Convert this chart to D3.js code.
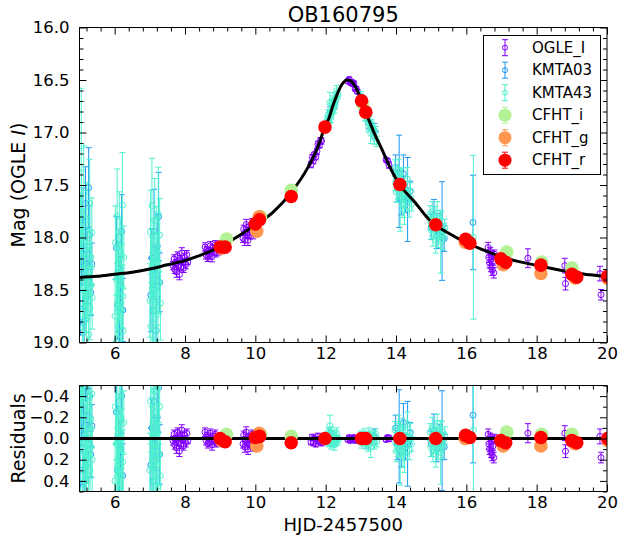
<!DOCTYPE html>
<html>
<head>
<meta charset="utf-8">
<script src="https://cdn.jsdelivr.net/npm/d3@7"></script>
<style>
  body { margin: 0; background: #fff; }
  text { font-family: "DejaVu Sans", sans-serif; fill: #000; }
</style>
</head>
<body>
<svg id="chart" width="621" height="535"></svg>
<script>
// ---- Best-fit model light curve (HJD-2457500, OGLE I mag) ----
const modelT = [5.0, 5.5, 6.0, 6.5, 7.0, 7.5, 8.0, 8.5, 9.0, 9.5, 10.0, 10.5, 11.0, 11.5, 11.75,
  12.0, 12.1, 12.2, 12.3, 12.4, 12.5, 12.6, 12.7, 12.8, 12.9, 13.0, 13.1, 13.2, 13.3, 13.4,
  13.6, 13.8, 14.0, 14.2, 14.5, 15.0, 15.5, 16.0, 16.5, 17.0, 17.5, 18.0, 18.5, 19.0, 19.5, 20.0];
const modelMag = [18.38, 18.37, 18.35, 18.33, 18.30, 18.26, 18.22, 18.16, 18.09, 17.99, 17.88, 17.76, 17.58, 17.33, 17.16,
  16.93, 16.86, 16.75, 16.66, 16.58, 16.525, 16.50, 16.505, 16.54, 16.60, 16.68, 16.77, 16.86, 16.94, 17.02,
  17.16, 17.31, 17.44, 17.54, 17.65, 17.85, 17.96, 18.05, 18.12, 18.185, 18.23, 18.265, 18.30, 18.33, 18.355, 18.37];

// ---- Photometry: [HJD-2457500, residual from model (mag), error (mag)] ----
const ogleI = [
  [7.66,0.02,0.04],[7.69,-0.04,0.04],[7.71,0.06,0.04],[7.74,0.00,0.03],[7.76,0.09,0.05],[7.79,-0.06,0.04],
  [7.81,0.03,0.04],[7.84,0.12,0.05],[7.86,-0.02,0.04],[7.89,0.05,0.04],[7.91,-0.08,0.05],[7.94,0.01,0.03],
  [7.96,0.07,0.04],[7.99,-0.03,0.04],[8.02,0.04,0.04],[8.05,-0.05,0.04],[8.08,0.02,0.03],
  [8.57,-0.06,0.04],[8.60,0.02,0.04],[8.62,-0.03,0.03],[8.65,0.05,0.04],[8.67,-0.01,0.03],[8.70,0.03,0.04],
  [8.72,-0.05,0.04],[8.75,0.01,0.03],[8.77,0.06,0.05],[8.80,-0.02,0.03],[8.83,0.02,0.04],[8.86,-0.04,0.04],
  [8.89,0.04,0.04],[8.92,0.00,0.03],[8.95,0.03,0.04],
  [9.65,0.05,0.04],[9.67,-0.03,0.04],[9.70,0.08,0.05],[9.72,0.01,0.03],[9.74,-0.06,0.05],[9.77,0.04,0.04],
  [9.79,0.10,0.05],[9.81,-0.02,0.03],[9.84,0.06,0.04],[9.86,0.00,0.03],[9.88,0.03,0.04],[9.91,-0.04,0.04],
  [9.94,0.07,0.05],
  [11.58,0.03,0.03],[11.62,-0.01,0.03],[11.65,0.04,0.03],[11.68,0.00,0.02],[11.72,0.05,0.03],
  [11.75,0.02,0.03],[11.78,-0.02,0.03],[11.82,0.03,0.02],[11.85,0.01,0.03],[11.88,0.04,0.03],
  [12.63,0.01,0.02],[12.67,-0.01,0.02],[12.70,0.02,0.02],[12.74,0.00,0.02],[12.77,0.01,0.02],
  [12.80,-0.01,0.02],[12.84,0.02,0.02],[12.87,0.00,0.02],[12.90,0.01,0.02],
  [13.72,0.01,0.02],[13.76,-0.01,0.02],[13.80,0.00,0.03],
  [16.62,-0.04,0.05],[16.64,0.05,0.05],[16.66,0.10,0.05],[16.68,-0.01,0.04],[16.70,0.13,0.05],
  [16.72,0.02,0.04],[16.74,0.16,0.05],[16.76,0.07,0.04],[16.78,0.18,0.05],[16.80,0.00,0.04],
  [17.75,-0.05,0.09],[18.80,-0.05,0.07],[18.82,0.12,0.06],[19.80,-0.02,0.07],[19.83,0.18,0.05]
];

const kmta03 = [
  [5.03,0.30,0.25],[5.05,-0.15,0.22],[5.07,-0.55,0.30],[5.09,0.10,0.20],[5.11,-0.30,0.25],[5.13,0.42,0.30],
  [5.15,-0.05,0.18],[5.17,-0.70,0.35],[5.19,0.20,0.22],[5.21,-0.22,0.24],[5.24,0.05,0.20],[5.26,-0.85,0.38],
  [5.29,-0.40,0.28],[5.32,0.15,0.22],[5.35,-0.12,0.20],
  [6.05,-0.25,0.30],[6.08,0.30,0.32],[6.11,-0.05,0.25],[6.14,0.55,0.40],[6.17,0.10,0.26],[6.20,-0.40,0.35],
  [6.23,0.35,0.30],
  [7.03,0.25,0.35],[7.06,-0.10,0.28],[7.09,0.40,0.38],[7.12,-0.35,0.40],[7.15,0.05,0.25],[7.18,0.60,0.45],
  [7.21,-0.20,0.30],[7.25,-0.48,0.42],[7.28,0.15,0.28],
  [12.12,-0.03,0.05],[12.26,0.02,0.05],
  [13.04,0.00,0.06],[13.22,0.03,0.06],[13.38,-0.02,0.07],
  [13.99,-0.10,0.12],[14.04,0.05,0.15],[14.09,-0.02,0.44],[14.15,0.12,0.15],[14.21,-0.15,0.18],
  [14.27,0.08,0.12],[14.33,0.05,0.40],[14.40,-0.05,0.10],
  [15.00,0.05,0.12],[15.08,-0.08,0.15],[15.16,0.10,0.12],[15.24,-0.03,0.10],[15.31,0.02,0.47],
  [15.37,0.08,0.12],
  [16.19,-0.22,0.45]
];

const kmta43 = [
  [5.02,0.12,0.30],[5.03,-0.45,0.35],[5.05,-1.25,0.55],[5.06,-0.62,0.40],[5.08,0.35,0.32],[5.09,-0.20,0.28],
  [5.11,0.48,0.35],[5.12,-0.80,0.45],[5.14,0.05,0.25],[5.15,-0.35,0.30],[5.17,0.25,0.28],[5.18,-0.10,0.22],
  [5.20,0.40,0.38],[5.21,-0.55,0.35],[5.23,0.15,0.25],[5.24,-0.28,0.30],[5.26,0.55,0.40],[5.27,-0.05,0.22],
  [5.29,-0.70,0.42],[5.30,0.30,0.30],[5.32,-0.18,0.26],[5.33,0.08,0.28],[5.35,-0.42,0.33],[5.36,0.20,0.30],
  [6.01,0.40,0.40],[6.02,-0.30,0.35],[6.04,0.65,0.45],[6.05,0.05,0.30],[6.07,-0.55,0.45],[6.08,0.28,0.32],
  [6.10,-0.10,0.28],[6.11,0.50,0.40],[6.13,-0.40,0.38],[6.14,0.15,0.30],[6.16,0.75,0.45],[6.17,-0.20,0.33],
  [6.19,0.35,0.35],[6.20,0.00,0.28],[6.22,-0.65,0.50],[6.23,0.22,0.30],[6.24,0.55,0.42],[6.26,-0.15,0.30],
  [7.00,0.30,0.35],[7.02,-0.35,0.40],[7.03,0.55,0.42],[7.05,0.00,0.30],[7.06,-0.60,0.45],[7.08,0.20,0.30],
  [7.09,0.70,0.45],[7.11,-0.15,0.32],[7.12,0.40,0.35],[7.14,-0.45,0.40],[7.15,0.10,0.28],[7.17,0.60,0.40],
  [7.18,-0.25,0.33],[7.20,0.25,0.30],[7.21,-0.05,0.28],[7.23,0.45,0.38],[7.24,-0.50,0.45],[7.26,0.15,0.30],
  [7.28,-0.30,0.35],[7.30,0.35,0.35],
  [12.04,-0.02,0.04],[12.06,0.03,0.04],[12.07,-0.05,0.05],[12.09,0.01,0.03],[12.10,0.04,0.04],
  [12.12,-0.12,0.10],[12.13,0.00,0.03],[12.15,0.05,0.05],[12.16,-0.06,0.05],[12.18,0.02,0.04],
  [12.19,-0.01,0.03],[12.21,0.04,0.04],[12.22,-0.04,0.04],[12.24,0.01,0.03],[12.25,0.06,0.05],
  [12.27,-0.02,0.04],[12.29,0.03,0.04],[12.31,-0.05,0.05],[12.33,0.00,0.03],[12.35,0.02,0.04],
  [12.98,0.01,0.04],[13.00,-0.03,0.04],[13.02,0.04,0.05],[13.05,-0.01,0.03],[13.07,0.02,0.04],
  [13.09,-0.04,0.05],[13.12,0.05,0.05],[13.14,0.00,0.03],[13.16,0.03,0.04],[13.19,-0.02,0.04],
  [13.21,0.06,0.06],[13.23,-0.05,0.05],[13.26,0.01,0.04],[13.28,0.08,0.10],[13.31,-0.03,0.04],
  [13.33,0.02,0.05],[13.36,-0.01,0.04],[13.39,0.04,0.06],[13.42,-0.04,0.05],[13.45,0.03,0.05],
  [13.97,-0.08,0.08],[13.99,0.05,0.07],[14.01,0.12,0.10],[14.03,-0.02,0.06],[14.05,0.08,0.09],
  [14.07,-0.12,0.10],[14.10,0.02,0.06],[14.12,0.14,0.30],[14.14,-0.05,0.07],[14.16,0.10,0.08],
  [14.18,-0.10,0.09],[14.20,0.15,0.12],[14.22,0.04,0.06],[14.24,0.18,0.14],[14.27,-0.03,0.07],
  [14.29,0.07,0.08],[14.32,-0.14,0.11],[14.35,0.01,0.06],[14.38,0.11,0.09],[14.41,-0.06,0.08],
  [14.44,0.05,0.07],
  [14.97,-0.06,0.08],[14.99,0.08,0.09],[15.01,0.02,0.06],[15.03,-0.10,0.10],[15.05,0.12,0.10],
  [15.07,-0.02,0.07],[15.09,0.05,0.08],[15.11,-0.08,0.09],[15.13,0.15,0.12],[15.15,0.00,0.06],
  [15.17,-0.12,0.11],[15.19,0.07,0.08],[15.21,0.10,0.10],[15.23,-0.04,0.07],[15.25,0.03,0.06],
  [15.27,0.13,0.30],[15.30,-0.07,0.09],[15.33,0.09,0.10],[15.36,0.01,0.07],[15.39,-0.03,0.08],
  [16.20,-0.08,0.78]
];

// CFHT points: [HJD-2457500, residual (mag), error (mag)]
const cfhtI = [[9.18,-0.04,0.01],[10.15,-0.04,0.01],[11.02,-0.02,0.01],[13.05,0.00,0.01],
  [15.12,0.00,0.01],[17.15,-0.06,0.01],[18.14,-0.04,0.01],[19.00,-0.04,0.01]];
const cfhtG = [[9.04,0.02,0.01],[10.04,0.07,0.01],[10.11,-0.05,0.01],[15.97,0.00,0.01],
  [17.05,0.07,0.01],[18.12,0.07,0.01],[19.09,0.05,0.01],[20.03,0.02,0.01]];
const cfhtR = [[9.00,0.00,0.01],[9.14,0.03,0.01],[10.00,-0.01,0.01],[10.12,-0.02,0.01],[11.02,0.04,0.01],
  [11.98,0.00,0.01],[13.02,0.00,0.01],[13.14,0.00,0.01],[14.11,0.00,0.01],[15.13,0.00,0.01],
  [15.98,-0.03,0.01],[16.10,-0.01,0.01],[16.98,0.02,0.01],[17.12,0.04,0.01],[18.12,-0.01,0.01],
  [19.00,0.02,0.01],[19.14,0.04,0.01],[20.02,0.00,0.01]];

// ---- Tick labels ----
const dayTicks = [6, 8, 10, 12, 14, 16, 18, 20];
const magTicks = [16.0, 16.5, 17.0, 17.5, 18.0, 18.5, 19.0];
const resTicks = [-0.4, -0.2, 0.0, 0.2, 0.4];

const series = [
  { name: "OGLE_I", rows: ogleI, color: "#8000ff", kind: "open" },
  { name: "KMTA03", rows: kmta03, color: "#1a96f2", kind: "open" },
  { name: "KMTA43", rows: kmta43, color: "#4df2ce", kind: "open" },
  { name: "CFHT_i", rows: cfhtI, color: "#b3f296", kind: "filled" },
  { name: "CFHT_g", rows: cfhtG, color: "#ff964f", kind: "filled" },
  { name: "CFHT_r", rows: cfhtR, color: "#ff0000", kind: "filled" }
];

// ---- Layout ----
const svg = d3.select("#chart");
const L = 79.5, R = 607;
const mainTop = 27.5, mainBot = 342.5;
const resTop = 385.5, resBot = 491.5;

const x = d3.scaleLinear().domain([5, 20]).range([L, R]);
const yMag = d3.scaleLinear().domain([16, 19]).range([mainTop, mainBot]);
const yRes = d3.scaleLinear().domain([-0.5, 0.5]).range([resTop, resBot]);

// linear interpolation of the model curve
function modelAt(t) {
  let i = d3.bisectLeft(modelT, t);
  i = Math.max(1, Math.min(modelT.length - 1, i));
  const t0 = modelT[i - 1], t1 = modelT[i];
  const f = (t - t0) / (t1 - t0);
  return modelMag[i - 1] + f * (modelMag[i] - modelMag[i - 1]);
}

const defs = svg.append("defs");
defs.append("clipPath").attr("id", "clipMain").append("rect")
  .attr("x", L).attr("y", mainTop).attr("width", R - L).attr("height", mainBot - mainTop);
defs.append("clipPath").attr("id", "clipRes").append("rect")
  .attr("x", L).attr("y", resTop).attr("width", R - L).attr("height", resBot - resTop);

const mainG = svg.append("g").attr("clip-path", "url(#clipMain)");
const resG = svg.append("g").attr("clip-path", "url(#clipRes)");

const CAP = 3;
function drawOpen(g, s, yScale, valueOf) {
  const grp = g.append("g").attr("stroke", s.color).attr("fill", "none").attr("stroke-width", 1);
  const pts = grp.selectAll("g").data(s.rows).join("g");
  pts.append("line")
    .attr("x1", d => x(d[0])).attr("x2", d => x(d[0]))
    .attr("y1", d => yScale(valueOf(d) - d[2])).attr("y2", d => yScale(valueOf(d) + d[2]));
  pts.append("line")
    .attr("x1", d => x(d[0]) - CAP).attr("x2", d => x(d[0]) + CAP)
    .attr("y1", d => yScale(valueOf(d) - d[2])).attr("y2", d => yScale(valueOf(d) - d[2]));
  pts.append("line")
    .attr("x1", d => x(d[0]) - CAP).attr("x2", d => x(d[0]) + CAP)
    .attr("y1", d => yScale(valueOf(d) + d[2])).attr("y2", d => yScale(valueOf(d) + d[2]));
  pts.append("circle")
    .attr("cx", d => x(d[0])).attr("cy", d => yScale(valueOf(d))).attr("r", 3);
}
function drawFilled(g, s, yScale, valueOf) {
  const grp = g.append("g");
  const pts = grp.selectAll("g").data(s.rows).join("g");
  pts.append("line").attr("stroke", s.color)
    .attr("x1", d => x(d[0])).attr("x2", d => x(d[0]))
    .attr("y1", d => yScale(valueOf(d) - d[2])).attr("y2", d => yScale(valueOf(d) + d[2]));
  pts.append("circle").attr("fill", s.color)
    .attr("cx", d => x(d[0])).attr("cy", d => yScale(valueOf(d))).attr("r", 6.8);
}

const magOf = d => modelAt(d[0]) + d[1];
const resOf = d => d[1];

// main panel: photometry, model, CFHT on top
series.filter(s => s.kind === "open").forEach(s => drawOpen(mainG, s, yMag, magOf));
const modelLine = d3.line().x((d, i) => x(modelT[i])).y(d => yMag(d)).curve(d3.curveMonotoneX);
mainG.append("path").attr("d", modelLine(modelMag))
  .attr("fill", "none").attr("stroke", "#000").attr("stroke-width", 3);
series.filter(s => s.kind === "filled").forEach(s => drawFilled(mainG, s, yMag, magOf));

// residual panel
series.filter(s => s.kind === "open").forEach(s => drawOpen(resG, s, yRes, resOf));
resG.append("line").attr("x1", L).attr("x2", R).attr("y1", yRes(0)).attr("y2", yRes(0))
  .attr("stroke", "#000").attr("stroke-width", 3);
series.filter(s => s.kind === "filled").forEach(s => drawFilled(resG, s, yRes, resOf));

// ---- Axes: ticks pointing inward on all four sides ----
const near = (a, b) => Math.abs(a - b) < 1e-6;
const dayMinor = d3.range(13, 51).map(i => +(i * 0.4).toFixed(2)).filter(v => !dayTicks.some(m => near(m, v)) && v > 5 && v < 20);
const magMinor = d3.range(161, 190).map(i => i / 10).filter(v => !magTicks.some(m => near(m, v)));
const resMinor = [-0.5, -0.3, -0.1, 0.1, 0.3, 0.5];

function ticks(axisFn, scale, values, size, fmt, pad) {
  return axisFn(scale).tickValues(values).tickSize(-size).tickPadding(pad || 3)
    .tickFormat(fmt || (() => ""));
}
function styleAxis(g) {
  g.select(".domain").remove();
  g.selectAll("text").attr("font-size", 16.5).attr("font-family", "DejaVu Sans, sans-serif").attr("fill", "#000");
  g.selectAll("line").attr("stroke", "#000");
  g.attr("font-family", null).attr("font-size", null);
}

function panelAxes(yScale, top, bot, yMajor, yMinor, yFmt, xPad) {
  const MJ = 7, MN = 4;
  svg.append("g").attr("transform", `translate(0,${bot})`)
    .call(ticks(d3.axisBottom, x, dayTicks, MJ, d3.format("d"), xPad)).call(styleAxis);
  svg.append("g").attr("transform", `translate(0,${bot})`)
    .call(ticks(d3.axisBottom, x, dayMinor, MN)).call(styleAxis);
  svg.append("g").attr("transform", `translate(0,${top})`)
    .call(ticks(d3.axisTop, x, dayTicks, MJ)).call(styleAxis);
  svg.append("g").attr("transform", `translate(0,${top})`)
    .call(ticks(d3.axisTop, x, dayMinor, MN)).call(styleAxis);
  svg.append("g").attr("transform", `translate(${L},0)`)
    .call(ticks(d3.axisLeft, yScale, yMajor, MJ, yFmt, 10)).call(styleAxis);
  svg.append("g").attr("transform", `translate(${L},0)`)
    .call(ticks(d3.axisLeft, yScale, yMinor, MN)).call(styleAxis);
  svg.append("g").attr("transform", `translate(${R},0)`)
    .call(ticks(d3.axisRight, yScale, yMajor, MJ)).call(styleAxis);
  svg.append("g").attr("transform", `translate(${R},0)`)
    .call(ticks(d3.axisRight, yScale, yMinor, MN)).call(styleAxis);
  svg.append("rect").attr("x", L).attr("y", top).attr("width", R - L).attr("height", bot - top)
    .attr("fill", "none").attr("stroke", "#000").attr("stroke-width", 1);
}
panelAxes(yMag, mainTop, mainBot, magTicks, magMinor, d3.format(".1f"), 5);
panelAxes(yRes, resTop, resBot, resTicks, resMinor, d3.format(".1f"), 5);

// ---- Titles and axis labels ----
svg.append("text").attr("x", (L + R) / 2).attr("y", 22).attr("text-anchor", "middle")
  .attr("font-size", 21).text("OB160795");
const yl = svg.append("text").attr("transform", `translate(25,${(mainTop + mainBot) / 2}) rotate(-90)`)
  .attr("text-anchor", "middle").attr("font-size", 19);
yl.append("tspan").text("Mag (OGLE ");
yl.append("tspan").attr("font-style", "italic").text("I");
yl.append("tspan").text(")");
svg.append("text").attr("transform", `translate(25,${(resTop + resBot) / 2}) rotate(-90)`)
  .attr("text-anchor", "middle").attr("font-size", 19).text("Residuals");
svg.append("text").attr("x", (L + R) / 2).attr("y", 531).attr("text-anchor", "middle")
  .attr("font-size", 18).text("HJD-2457500");

// ---- Legend ----
const lg = svg.append("g");
lg.append("rect").attr("x", 483.5).attr("y", 35.5).attr("width", 117).attr("height", 139)
  .attr("fill", "#fff").attr("stroke", "#000").attr("stroke-width", 1);
series.forEach((s, i) => {
  const cy = 47.7 + i * 22.5, cx = 505;
  const row = lg.append("g");
  row.append("line").attr("x1", cx).attr("x2", cx).attr("y1", cy - 8).attr("y2", cy + 8).attr("stroke", s.color);
  row.append("line").attr("x1", cx - CAP).attr("x2", cx + CAP).attr("y1", cy - 8).attr("y2", cy - 8).attr("stroke", s.color);
  row.append("line").attr("x1", cx - CAP).attr("x2", cx + CAP).attr("y1", cy + 8).attr("y2", cy + 8).attr("stroke", s.color);
  if (s.kind === "open") {
    row.append("circle").attr("cx", cx).attr("cy", cy).attr("r", 2.5).attr("fill", "none").attr("stroke", s.color);
  } else {
    row.append("circle").attr("cx", cx).attr("cy", cy).attr("r", 6.5).attr("fill", s.color);
  }
  row.append("text").attr("x", 532).attr("y", cy).attr("dy", "0.35em").attr("font-size", 15).text(s.name);
});
</script>
</body>
</html>
